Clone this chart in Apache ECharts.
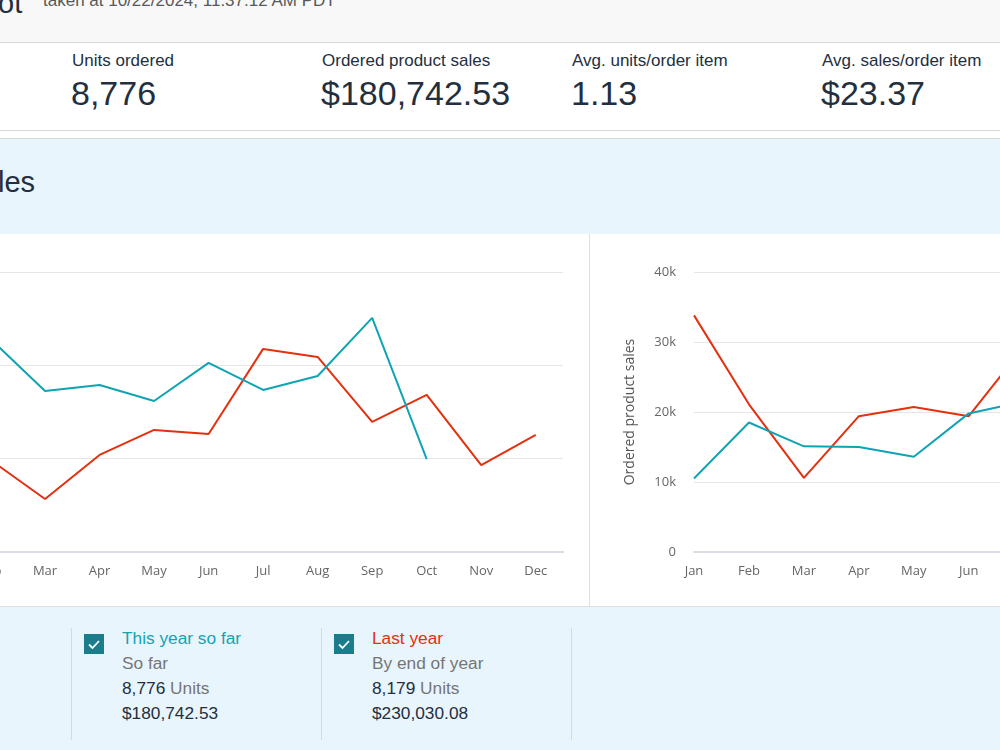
<!DOCTYPE html>
<html>
<head>
<meta charset="utf-8">
<script src="https://cdn.jsdelivr.net/npm/echarts@6/dist/echarts.min.js"></script>
<style>
    body { margin: 0; width: 1000px; height: 750px; overflow: hidden; position: relative; background: #fff; font-family: "Liberation Sans", Arial, sans-serif; color: #232f3e; }
    .abs { position: absolute; white-space: nowrap; }
    #header { left: 0; top: 0; width: 1000px; height: 42px; background: #f8f8f8; border-bottom: 1px solid #d5d9d9; }
    #kpis { left: 0; top: 43px; width: 1000px; height: 87px; background: #fff; border-bottom: 1px solid #d5d9d9; }
    #band { left: 0; top: 138px; width: 1000px; height: 95px; background: #e9f5fd; border-top: 1px solid #d5d9d9; border-bottom: 1px solid #dcdfe3; }
    #charts { left: 0; top: 234px; width: 1000px; height: 372px; background: #fff; border-bottom: 1px solid #dcdfe3; }
    #legendBand { left: 0; top: 607px; width: 1000px; height: 143px; background: #e9f5fd; }
    .kLabel { font-size: 17px; line-height: 20px; }
    .kValue { font-size: 34px; line-height: 40px; }
    .lg { font-size: 17.3px; line-height: 25px; }
    .grey { color: #767676; }
    .divider { width: 1px; background: #d5dbdb; }
    .chk { width: 20px; height: 20px; background: #1b7d8c; }
    .chk svg { display: block; }
</style>
</head>
<body>
<div class="abs" id="header"></div>
<div class="abs" style="left:-2px;top:-17px;font-size:29px;line-height:40px;">ot</div>
<div class="abs grey" style="left:43px;top:-11px;font-size:17px;line-height:24px;color:#565959;">taken at 10/22/2024, 11:37:12 AM PDT</div>

<div class="abs" id="kpis"></div>
<div class="abs kLabel" style="left:72px;top:51px;">Units ordered</div>
<div class="abs kValue" style="left:71px;top:73px;">8,776</div>
<div class="abs kLabel" style="left:322px;top:51px;">Ordered product sales</div>
<div class="abs kValue" style="left:321px;top:73px;">$180,742.53</div>
<div class="abs kLabel" style="left:572px;top:51px;">Avg. units/order item</div>
<div class="abs kValue" style="left:571px;top:73px;">1.13</div>
<div class="abs kLabel" style="left:822px;top:51px;">Avg. sales/order item</div>
<div class="abs kValue" style="left:821px;top:73px;">$23.37</div>

<div class="abs" id="band"></div>
<div class="abs" style="left:-2px;top:162px;font-size:29px;line-height:40px;">les</div>

<div class="abs" id="charts"></div>
<div class="abs" id="unitsChart" style="left:-140px;top:234px;width:730px;height:373px;"></div>
<div class="abs" style="left:589px;top:234px;width:1px;height:373px;background:#dcdfe3;"></div>
<div class="abs" id="salesChart" style="left:590px;top:234px;width:770px;height:373px;"></div>

<div class="abs" id="legendBand"></div>
<div class="abs divider" style="left:71px;top:628px;height:112px;"></div>
<div class="abs divider" style="left:321px;top:628px;height:112px;"></div>
<div class="abs divider" style="left:571px;top:628px;height:112px;"></div>

<div class="abs chk" style="left:84px;top:634px;"><svg width="20" height="20"><path d="M5 10.5 L8.5 14 L15 7" stroke="#fff" stroke-width="1.8" fill="none"/></svg></div>
<div class="abs lg" style="left:122px;top:626px;color:#13a3b3;">This year so far</div>
<div class="abs lg grey" style="left:122px;top:651px;">So far</div>
<div class="abs lg" style="left:122px;top:676px;">8,776 <span class="grey">Units</span></div>
<div class="abs lg" style="left:122px;top:701px;">$180,742.53</div>

<div class="abs chk" style="left:334px;top:634px;"><svg width="20" height="20"><path d="M5 10.5 L8.5 14 L15 7" stroke="#fff" stroke-width="1.8" fill="none"/></svg></div>
<div class="abs lg" style="left:372px;top:626px;color:#e3300f;">Last year</div>
<div class="abs lg grey" style="left:372px;top:651px;">By end of year</div>
<div class="abs lg" style="left:372px;top:676px;">8,179 <span class="grey">Units</span></div>
<div class="abs lg" style="left:372px;top:701px;">$230,030.08</div>

<script>
var months = ['Jan', 'Feb', 'Mar', 'Apr', 'May', 'Jun', 'Jul', 'Aug', 'Sep', 'Oct', 'Nov', 'Dec'];
var thisYearUnits = [492, 1141, 863, 895, 809, 1013, 868, 943, 1254, 498];
var lastYearUnits = [831, 493, 284, 520, 654, 632, 1088, 1045, 697, 842, 466, 627];
var thisYearSales = [10500, 18500, 15100, 15000, 13600, 19800, 21500, 23400, 31100, 12300];
var lastYearSales = [33800, 21100, 10600, 19400, 20700, 19400, 29300, 21500, 14400, 17300, 9600, 12900];
var unitTicks = [0, 500, 1000, 1500];
var salesTicks = [0, 10000, 20000, 30000, 40000];

var TEAL = '#0fa4b3';
var RED = '#e3300f';

// month index -> [index, value] pairs
function pairs(arr) {
    var res = [];
    for (var i = 0; i < arr.length; i++) {
        res.push([i, arr[i]]);
    }
    return res;
}

function monthLabel(v) {
    return v % 1 === 0 && months[v] ? months[v] : '';
}

function kLabel(v) {
    return v === 0 ? '0' : (v / 1000) + 'k';
}

function buildOption(yName, ticks, yFmt, lastYear, thisYear, gridLeft, gridRight) {
    return {
        animation: false,
        textStyle: { fontFamily: 'Open Sans' },
        grid: { left: gridLeft, right: gridRight, top: 38, bottom: 55, containLabel: false, outerBoundsMode: 'none' },
        xAxis: {
            type: 'value',
            min: 0,
            max: 11.5,
            interval: 1,
            axisLine: { show: true, lineStyle: { color: '#d8dde6', width: 2 } },
            axisTick: { show: false },
            splitLine: { show: false },
            axisLabel: { formatter: monthLabel, color: '#666', fontSize: 13, margin: 13, showMaxLabel: false }
        },
        yAxis: {
            type: 'value',
            min: ticks[0],
            max: ticks[ticks.length - 1],
            interval: ticks[1] - ticks[0],
            name: yName,
            nameLocation: 'middle',
            nameGap: 57,
            nameTextStyle: { color: '#555', fontSize: 14 },
            axisLine: { show: false },
            axisTick: { show: false },
            axisLabel: { formatter: yFmt, color: '#666', fontSize: 13, margin: 18 },
            splitLine: { lineStyle: { color: '#e6e6e6', width: 1 } }
        },
        series: [
            {
                name: 'Last year',
                type: 'line',
                symbol: 'none',
                lineStyle: { color: RED, width: 2 },
                itemStyle: { color: RED },
                data: pairs(lastYear)
            },
            {
                name: 'This year so far',
                type: 'line',
                symbol: 'none',
                lineStyle: { color: TEAL, width: 2 },
                itemStyle: { color: TEAL },
                data: pairs(thisYear)
            }
        ]
    };
}

//units chart (left, partly off-screen)
var chart1 = echarts.init(document.getElementById('unitsChart'));
chart1.setOption(buildOption('Units ordered', unitTicks, null, lastYearUnits, thisYearUnits, 76, 27));

//sales chart (right, partly off-screen)
var chart2 = echarts.init(document.getElementById('salesChart'));
chart2.setOption(buildOption('Ordered product sales', salesTicks, kLabel, lastYearSales, thisYearSales, 104, 770 - 104 - 632));
</script>
</body>
</html>
